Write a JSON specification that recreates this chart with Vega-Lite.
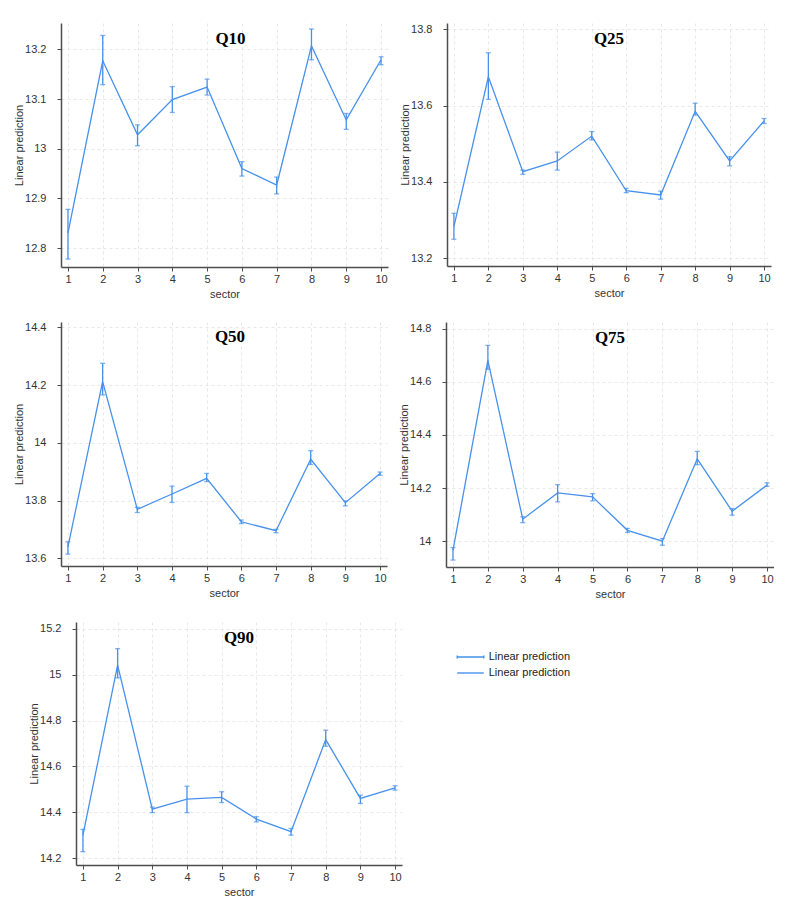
{
  "$schema": "https://vega.github.io/schema/vega-lite/v6.json",
  "padding": {"left": 13, "top": 23, "right": 0, "bottom": 0},
  "background": "white",
  "data": {"values": [
    {"q": "Q10", "sector": 1, "est": 12.83, "lo": 12.778, "hi": 12.878},
    {"q": "Q10", "sector": 2, "est": 13.177, "lo": 13.129, "hi": 13.228},
    {"q": "Q10", "sector": 3, "est": 13.028, "lo": 13.006, "hi": 13.048},
    {"q": "Q10", "sector": 4, "est": 13.099, "lo": 13.073, "hi": 13.125},
    {"q": "Q10", "sector": 5, "est": 13.124, "lo": 13.108, "hi": 13.14},
    {"q": "Q10", "sector": 6, "est": 12.96, "lo": 12.945, "hi": 12.974},
    {"q": "Q10", "sector": 7, "est": 12.927, "lo": 12.909, "hi": 12.943},
    {"q": "Q10", "sector": 8, "est": 13.207, "lo": 13.179, "hi": 13.241},
    {"q": "Q10", "sector": 9, "est": 13.058, "lo": 13.039, "hi": 13.071},
    {"q": "Q10", "sector": 10, "est": 13.179, "lo": 13.169, "hi": 13.185},
    {"q": "Q25", "sector": 1, "est": 13.283, "lo": 13.25, "hi": 13.318},
    {"q": "Q25", "sector": 2, "est": 13.675, "lo": 13.616, "hi": 13.738},
    {"q": "Q25", "sector": 3, "est": 13.427, "lo": 13.42, "hi": 13.431},
    {"q": "Q25", "sector": 4, "est": 13.455, "lo": 13.431, "hi": 13.478},
    {"q": "Q25", "sector": 5, "est": 13.52, "lo": 13.51, "hi": 13.532},
    {"q": "Q25", "sector": 6, "est": 13.377, "lo": 13.372, "hi": 13.383},
    {"q": "Q25", "sector": 7, "est": 13.366, "lo": 13.355, "hi": 13.376},
    {"q": "Q25", "sector": 8, "est": 13.585, "lo": 13.575, "hi": 13.606},
    {"q": "Q25", "sector": 9, "est": 13.455, "lo": 13.442, "hi": 13.466},
    {"q": "Q25", "sector": 10, "est": 13.56, "lo": 13.553, "hi": 13.566},
    {"q": "Q50", "sector": 1, "est": 13.64, "lo": 13.615, "hi": 13.658},
    {"q": "Q50", "sector": 2, "est": 14.212, "lo": 14.166, "hi": 14.275},
    {"q": "Q50", "sector": 3, "est": 13.77, "lo": 13.759, "hi": 13.777},
    {"q": "Q50", "sector": 4, "est": 13.823, "lo": 13.794, "hi": 13.85},
    {"q": "Q50", "sector": 5, "est": 13.877, "lo": 13.866, "hi": 13.894},
    {"q": "Q50", "sector": 6, "est": 13.727, "lo": 13.721, "hi": 13.733},
    {"q": "Q50", "sector": 7, "est": 13.696, "lo": 13.689, "hi": 13.701},
    {"q": "Q50", "sector": 8, "est": 13.943, "lo": 13.925, "hi": 13.973},
    {"q": "Q50", "sector": 9, "est": 13.793, "lo": 13.782, "hi": 13.799},
    {"q": "Q50", "sector": 10, "est": 13.894, "lo": 13.888, "hi": 13.899},
    {"q": "Q75", "sector": 1, "est": 13.966, "lo": 13.929, "hi": 13.976},
    {"q": "Q75", "sector": 2, "est": 14.681, "lo": 14.647, "hi": 14.737},
    {"q": "Q75", "sector": 3, "est": 14.083, "lo": 14.07, "hi": 14.092},
    {"q": "Q75", "sector": 4, "est": 14.182, "lo": 14.148, "hi": 14.213},
    {"q": "Q75", "sector": 5, "est": 14.167, "lo": 14.152, "hi": 14.179},
    {"q": "Q75", "sector": 6, "est": 14.041, "lo": 14.033, "hi": 14.048},
    {"q": "Q75", "sector": 7, "est": 14.0, "lo": 13.985, "hi": 14.01},
    {"q": "Q75", "sector": 8, "est": 14.31, "lo": 14.288, "hi": 14.338},
    {"q": "Q75", "sector": 9, "est": 14.113, "lo": 14.098, "hi": 14.123},
    {"q": "Q75", "sector": 10, "est": 14.211, "lo": 14.207, "hi": 14.22},
    {"q": "Q90", "sector": 1, "est": 14.301, "lo": 14.229, "hi": 14.326},
    {"q": "Q90", "sector": 2, "est": 15.041, "lo": 14.986, "hi": 15.113},
    {"q": "Q90", "sector": 3, "est": 14.414, "lo": 14.399, "hi": 14.423},
    {"q": "Q90", "sector": 4, "est": 14.458, "lo": 14.399, "hi": 14.514},
    {"q": "Q90", "sector": 5, "est": 14.465, "lo": 14.443, "hi": 14.49},
    {"q": "Q90", "sector": 6, "est": 14.371, "lo": 14.359, "hi": 14.381},
    {"q": "Q90", "sector": 7, "est": 14.316, "lo": 14.301, "hi": 14.33},
    {"q": "Q90", "sector": 8, "est": 14.717, "lo": 14.688, "hi": 14.758},
    {"q": "Q90", "sector": 9, "est": 14.461, "lo": 14.439, "hi": 14.475},
    {"q": "Q90", "sector": 10, "est": 14.507, "lo": 14.497, "hi": 14.516}
  ]},
  "spacing": 23,
  "vconcat": [
    {
      "spacing": 22,
      "vconcat": [
        {
          "spacing": 11,
          "hconcat": [
            {
              "title": {"text": "Q10", "dx": 6},
              "width": 327, "height": 244,
              "transform": [{"filter": "datum.q === 'Q10'"}],
              "encoding": {"x": {"field": "sector", "type": "quantitative", "scale": {"domain": [0.8, 10.2], "nice": false}, "axis": {"values": [1,2,3,4,5,6,7,8,9,10], "format": "d", "title": "sector"}}},
              "layer": [
                {"mark": {"type": "line", "color": "#4791ec", "strokeWidth": 1.3}, "encoding": {"y": {"field": "est", "type": "quantitative", "title": "Linear prediction", "scale": {"domain": [12.762, 13.253], "nice": false, "zero": false}, "axis": {"values": [12.8, 12.9, 13, 13.1, 13.2], "format": ".1~f"}}}},
                {"mark": {"type": "errorbar", "color": "#4791ec", "thickness": 1.3, "ticks": {"size": 5}}, "encoding": {"y": {"field": "lo", "type": "quantitative", "title": "Linear prediction"}, "y2": {"field": "hi"}}}
              ]
            },
            {
              "title": {"text": "Q25"},
              "width": 324, "height": 243,
              "transform": [{"filter": "datum.q === 'Q25'"}],
              "encoding": {"x": {"field": "sector", "type": "quantitative", "scale": {"domain": [0.8, 10.2], "nice": false}, "axis": {"values": [1,2,3,4,5,6,7,8,9,10], "format": "d", "title": "sector"}}},
              "layer": [
                {"mark": {"type": "line", "color": "#4791ec", "strokeWidth": 1.3}, "encoding": {"y": {"field": "est", "type": "quantitative", "title": "Linear prediction", "scale": {"domain": [13.18, 13.816], "nice": false, "zero": false}, "axis": {"values": [13.2, 13.4, 13.6, 13.8], "format": ".1~f"}}}},
                {"mark": {"type": "errorbar", "color": "#4791ec", "thickness": 1.3, "ticks": {"size": 5}}, "encoding": {"y": {"field": "lo", "type": "quantitative", "title": "Linear prediction"}, "y2": {"field": "hi"}}}
              ]
            }
          ]
        },
        {
          "spacing": 11,
          "hconcat": [
            {
              "title": {"text": "Q50", "dx": 6},
              "width": 326, "height": 244,
              "transform": [{"filter": "datum.q === 'Q50'"}],
              "encoding": {"x": {"field": "sector", "type": "quantitative", "scale": {"domain": [0.8, 10.2], "nice": false}, "axis": {"values": [1,2,3,4,5,6,7,8,9,10], "format": "d", "title": "sector"}}},
              "layer": [
                {"mark": {"type": "line", "color": "#4791ec", "strokeWidth": 1.3}, "encoding": {"y": {"field": "est", "type": "quantitative", "title": "Linear prediction", "scale": {"domain": [13.574, 14.418], "nice": false, "zero": false}, "axis": {"values": [13.6, 13.8, 14, 14.2, 14.4], "format": ".1~f"}}}},
                {"mark": {"type": "errorbar", "color": "#4791ec", "thickness": 1.3, "ticks": {"size": 5}}, "encoding": {"y": {"field": "lo", "type": "quantitative", "title": "Linear prediction"}, "y2": {"field": "hi"}}}
              ]
            },
            {
              "title": {"text": "Q75"},
              "width": 328, "height": 245,
              "transform": [{"filter": "datum.q === 'Q75'"}],
              "encoding": {"x": {"field": "sector", "type": "quantitative", "scale": {"domain": [0.8, 10.2], "nice": false}, "axis": {"values": [1,2,3,4,5,6,7,8,9,10], "format": "d", "title": "sector"}}},
              "layer": [
                {"mark": {"type": "line", "color": "#4791ec", "strokeWidth": 1.3}, "encoding": {"y": {"field": "est", "type": "quantitative", "title": "Linear prediction", "scale": {"domain": [13.903, 14.825], "nice": false, "zero": false}, "axis": {"values": [14, 14.2, 14.4, 14.6, 14.8], "format": ".1~f"}}}},
                {"mark": {"type": "errorbar", "color": "#4791ec", "thickness": 1.3, "ticks": {"size": 5}}, "encoding": {"y": {"field": "lo", "type": "quantitative", "title": "Linear prediction"}, "y2": {"field": "hi"}}}
              ]
            }
          ]
        }
      ]
    },
    {
      "spacing": -34,
      "hconcat": [
        {"width": 1, "height": 243, "data": {"values": []}, "mark": {"type": "point", "opacity": 0}},
        {
          "title": {"text": "Q90"},
          "width": 326, "height": 243,
          "transform": [{"filter": "datum.q === 'Q90'"}],
          "encoding": {"x": {"field": "sector", "type": "quantitative", "scale": {"domain": [0.8, 10.2], "nice": false}, "axis": {"values": [1,2,3,4,5,6,7,8,9,10], "format": "d", "title": "sector"}}},
          "layer": [
            {"mark": {"type": "line", "strokeWidth": 1.3}, "encoding": {
              "y": {"field": "est", "type": "quantitative", "title": "Linear prediction", "scale": {"domain": [14.171, 15.229], "nice": false, "zero": false}, "axis": {"values": [14.2, 14.4, 14.6, 14.8, 15, 15.2], "format": ".1~f"}},
              "color": {"datum": "Fit", "scale": {"domain": ["CI", "Fit"], "range": ["#4791ec", "#4791ec"]}, "legend": {
                "orient": "none", "legendX": 404, "legendY": 628.5, "title": null,
                "labelExpr": "'Linear prediction'",
                "symbolSize": 44, "labelOffset": 12.7, "rowPadding": 4, "padding": 0,
                "labelFontSize": 11, "labelColor": "#222", "labelFont": "Liberation Sans",
                "encode": {"symbols": {"update": {
                  "shape": {"signal": "datum.value === 'CI' ? 'M-4,-0.45V0.45M-4,0H4M4,-0.45V0.45' : 'M-4,0H4'"},
                  "stroke": {"value": "#4791ec"}, "strokeWidth": {"value": 1.4}, "fill": {"value": "transparent"}, "opacity": {"value": 1}
                }}}
              }}
            }},
            {"mark": {"type": "errorbar", "thickness": 1.3, "ticks": {"size": 5}}, "encoding": {"y": {"field": "lo", "type": "quantitative", "title": "Linear prediction"}, "y2": {"field": "hi"}, "color": {"datum": "CI"}}}
          ]
        }
      ]
    }
  ],
  "config": {
    "view": {"stroke": null},
    "font": "Liberation Sans",
    "axis": {
      "domainColor": "#4d4d4d", "domainWidth": 1.5, "tickColor": "#4d4d4d", "tickSize": 4, "tickWidth": 1,
      "labelFont": "Liberation Sans", "labelFontSize": 11, "labelColor": "#333",
      "titleFont": "Liberation Sans", "titleFontSize": 11, "titleFontWeight": "normal", "titleColor": "#333",
      "grid": true, "gridColor": "#e2e2e2", "gridDash": [3, 3], "gridWidth": 0.8
    },
    "axisY": {"labelPadding": 11, "minExtent": 37, "maxExtent": 37, "titlePadding": 0},
    "axisX": {"labelPadding": 2, "titlePadding": 4, "labelAngle": 0, "labelFlush": false},
    "title": {"font": "Liberation Serif", "fontSize": 17, "fontWeight": "bold", "color": "#000", "offset": -25, "baseline": "middle", "frame": "group", "anchor": "middle"}
  }
}
